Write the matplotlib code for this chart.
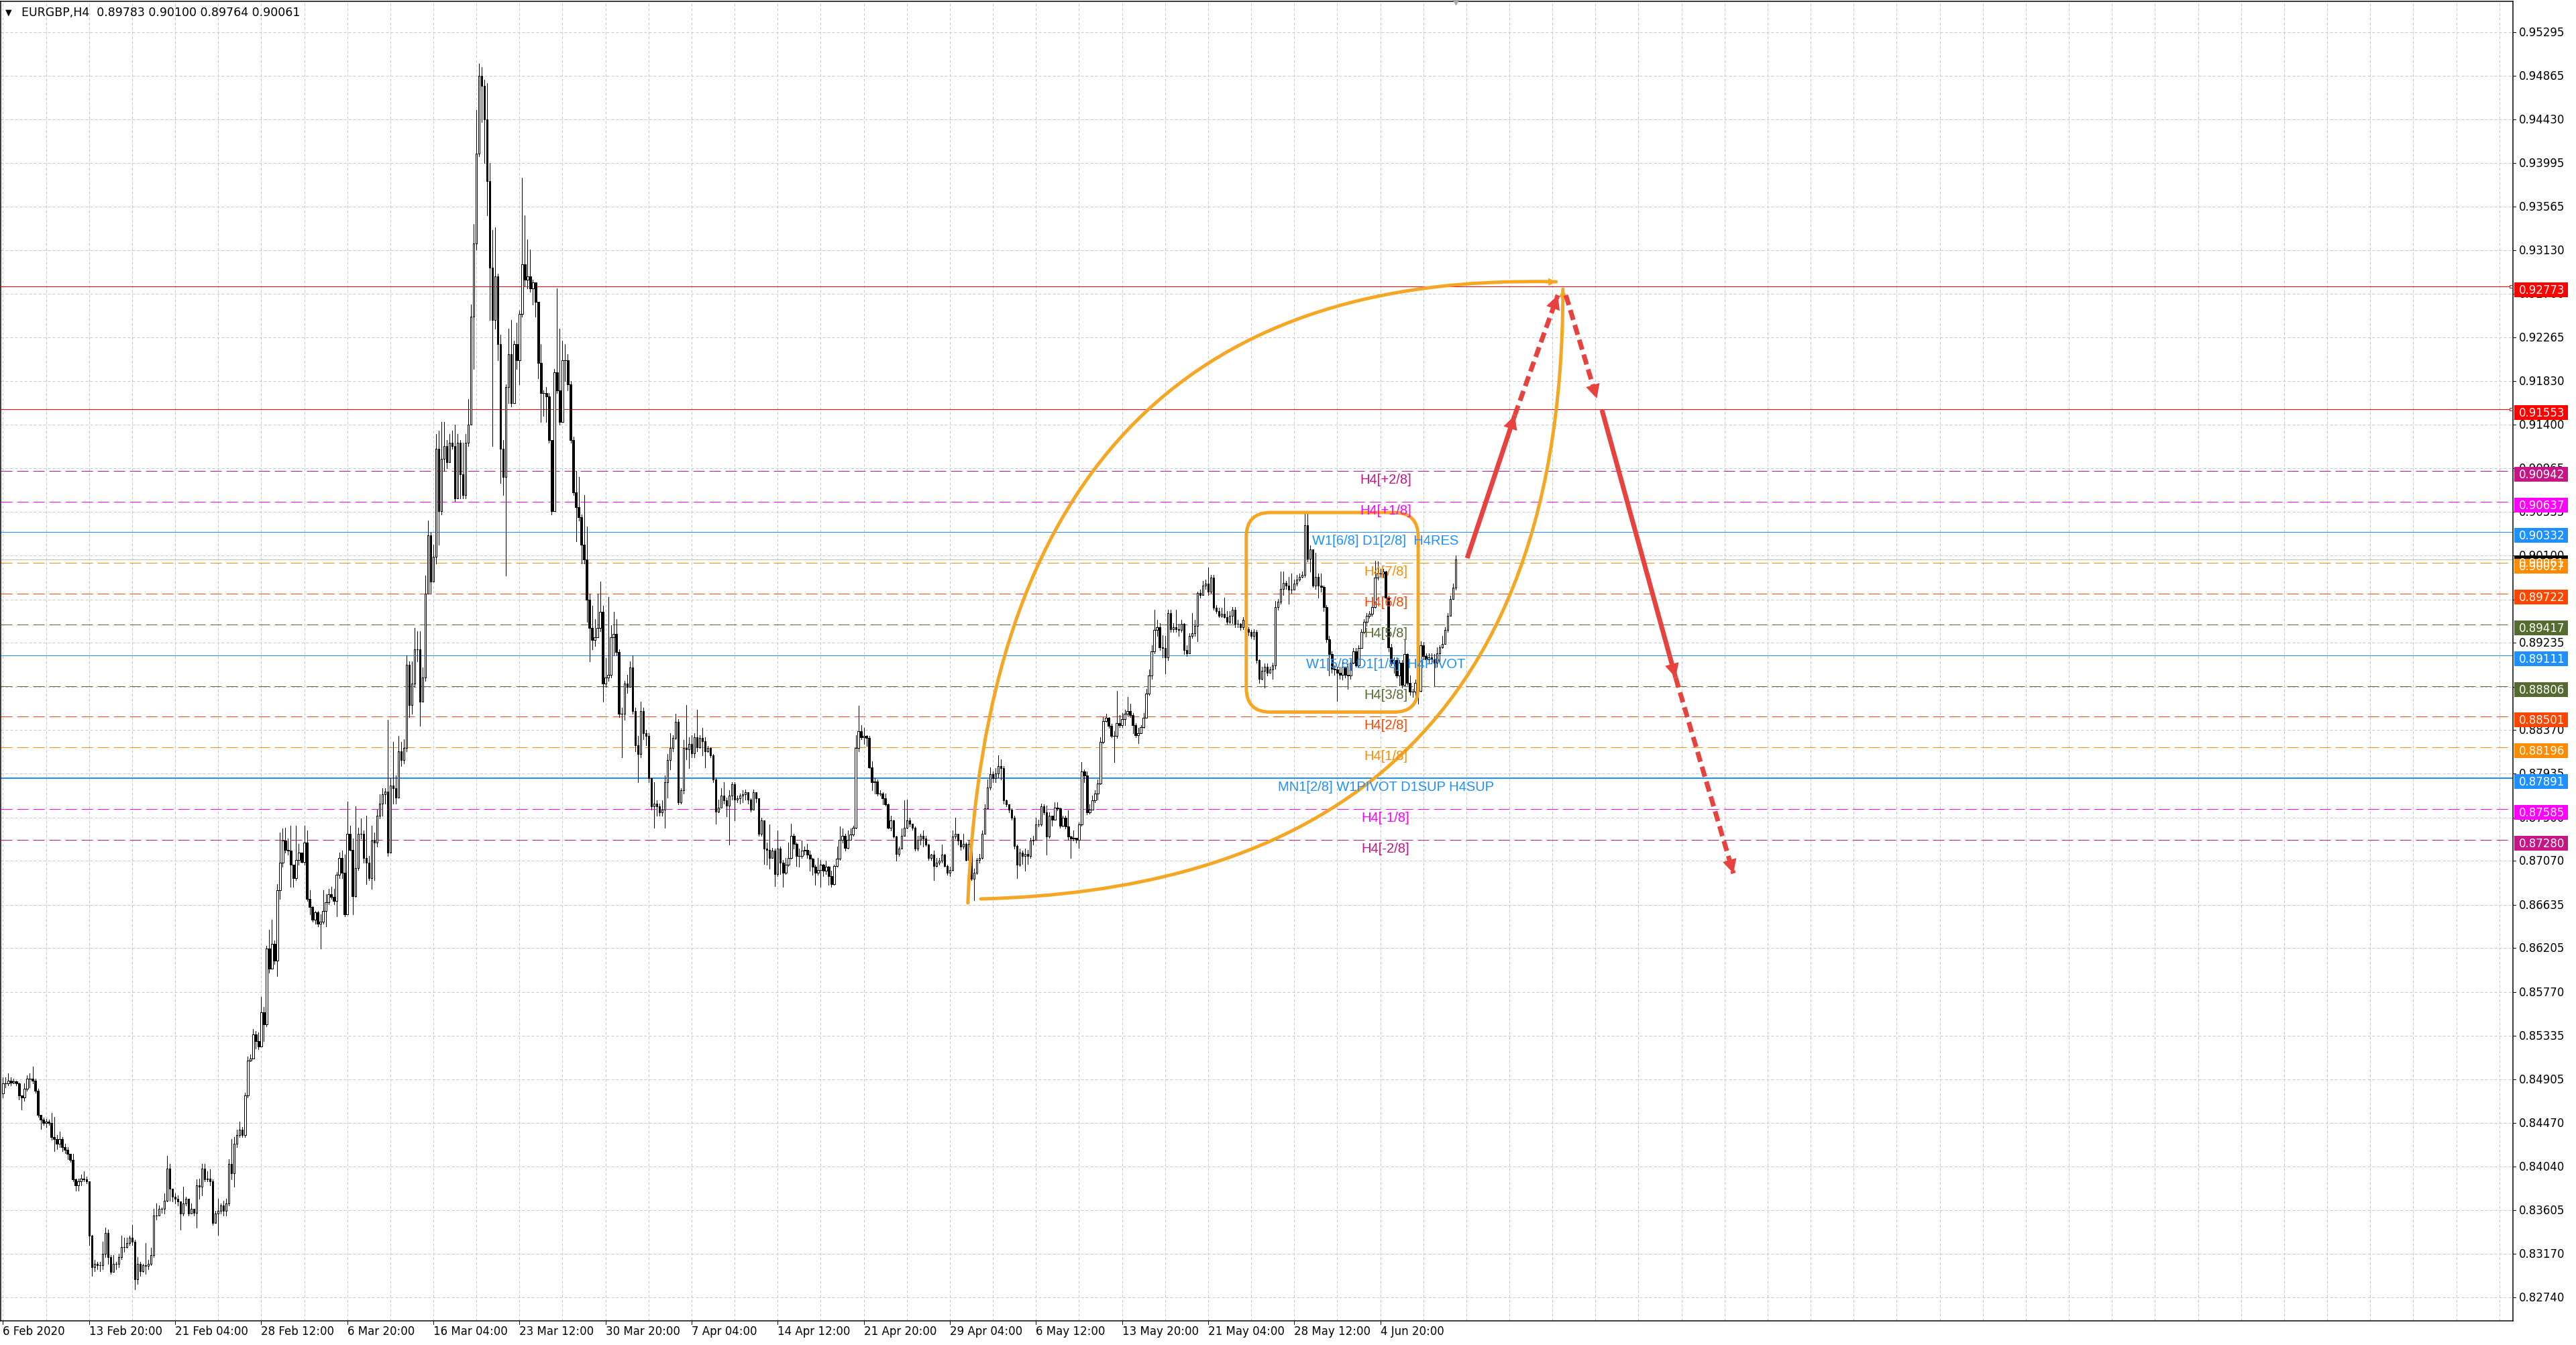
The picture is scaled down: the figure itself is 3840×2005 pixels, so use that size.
import numpy as np
import matplotlib
matplotlib.use("Agg")
import matplotlib.pyplot as plt
import matplotlib.transforms as mtransforms
from matplotlib.patches import FancyBboxPatch, Rectangle, PathPatch
from matplotlib.path import Path

W, H, DPI = 3840, 2006, 100
PX = 72.0 / DPI  # one pixel in points

# ---- price data, H4 bars, prices in pips (1e-4) ----
first_open = 8476
close_pips = [
    8486, 8486, 8489, 8487, 8488, 8486, 8474, 8472, 8481, 8491,
    8491, 8489, 8479, 8455, 8450, 8447, 8448, 8447, 8433, 8431,
    8426, 8431, 8423, 8420, 8416, 8410, 8391, 8385, 8389, 8392,
    8391, 8389, 8335, 8304, 8307, 8306, 8306, 8317, 8338, 8314,
    8299, 8307, 8307, 8314, 8324, 8324, 8328, 8333, 8329, 8292,
    8307, 8300, 8306, 8305, 8307, 8316, 8355, 8355, 8362, 8362,
    8370, 8402, 8382, 8374, 8372, 8369, 8357, 8367, 8372, 8357,
    8362, 8358, 8385, 8384, 8402, 8391, 8392, 8389, 8348, 8357,
    8360, 8365, 8360, 8367, 8406, 8397, 8426, 8435, 8440, 8435,
    8474, 8509, 8511, 8535, 8528, 8523, 8557, 8545, 8620, 8600,
    8625, 8608, 8678, 8705, 8727, 8718, 8717, 8703, 8690, 8708,
    8715, 8706, 8725, 8669, 8661, 8649, 8656, 8645, 8647, 8657,
    8666, 8674, 8671, 8667, 8693, 8710, 8695, 8654, 8734, 8718,
    8672, 8700, 8734, 8734, 8710, 8705, 8690, 8727, 8725, 8752,
    8764, 8773, 8776, 8715, 8782, 8779, 8770, 8816, 8807, 8819,
    8902, 8862, 8883, 8917, 8917, 8865, 8889, 8972, 9030, 8984,
    9009, 9116, 9054, 9106, 9119, 9103, 9122, 9119, 9067, 9122,
    9091, 9070, 9122, 9140, 9247, 9320, 9409, 9486, 9476, 9443,
    9382, 9296, 9244, 9287, 9220, 9116, 9088, 9177, 9210, 9161,
    9220, 9204, 9250, 9299, 9284, 9287, 9275, 9281, 9262, 9201,
    9171, 9171, 9168, 9125, 9054, 9192, 9174, 9143, 9204, 9204,
    9180, 9125, 9073, 9058, 9048, 9021, 9006, 8966, 8938, 8926,
    8929, 8938, 8954, 8883, 8889, 8892, 8929, 8932, 8914, 8853,
    8853, 8883, 8880, 8899, 8856, 8822, 8813, 8856, 8834, 8831,
    8789, 8761, 8764, 8761, 8755, 8758, 8785, 8807, 8819, 8829,
    8845, 8765, 8777, 8819, 8818, 8823, 8814, 8830, 8820, 8829,
    8826, 8816, 8819, 8812, 8788, 8756, 8760, 8772, 8767, 8762,
    8772, 8783, 8768, 8769, 8772, 8773, 8775, 8768, 8758, 8775,
    8769, 8734, 8747, 8719, 8718, 8710, 8717, 8694, 8719, 8705,
    8695, 8703, 8710, 8732, 8724, 8712, 8712, 8717, 8718, 8713,
    8709, 8701, 8695, 8698, 8703, 8697, 8701, 8692, 8684, 8702,
    8709, 8728, 8732, 8720, 8728, 8733, 8740, 8819, 8836, 8830,
    8831, 8829, 8800, 8785, 8786, 8774, 8774, 8769, 8763, 8740,
    8747, 8731, 8714, 8719, 8732, 8740, 8747, 8744, 8740, 8719,
    8728, 8732, 8729, 8723, 8710, 8713, 8702, 8705, 8707, 8713,
    8702, 8695, 8698, 8731, 8734, 8727, 8721, 8724, 8708, 8724,
    8689, 8695, 8708, 8710, 8734, 8759, 8780, 8793, 8789, 8794,
    8801, 8799, 8767, 8763, 8758, 8750, 8722, 8703, 8715, 8712,
    8714, 8712, 8727, 8728, 8743, 8743, 8761, 8755, 8731, 8752,
    8748, 8760, 8759, 8742, 8750, 8741, 8731, 8729, 8730, 8728,
    8743, 8796, 8792, 8755, 8758, 8767, 8774, 8784, 8825, 8846,
    8849, 8841, 8831, 8831, 8844, 8842, 8848, 8853, 8856, 8852,
    8842, 8832, 8834, 8840, 8849, 8873, 8891, 8915, 8936, 8939,
    8919, 8918, 8909, 8953, 8937, 8939, 8937, 8936, 8942, 8916,
    8913, 8930, 8933, 8940, 8973, 8971, 8980, 8982, 8974, 8988,
    8958, 8955, 8950, 8952, 8949, 8944, 8950, 8956, 8942, 8942,
    8939, 8946, 8937, 8934, 8930, 8934, 8906, 8888, 8896, 8900,
    8894, 8897, 8901, 8959, 8964, 8977, 8983, 8980, 8976, 8976,
    8982, 8986, 8989, 8991, 9040, 9007, 9016, 8980, 8989, 8980,
    8979, 8959, 8927, 8912, 8898, 8897, 8894, 8892, 8900, 8892,
    8891, 8904, 8915, 8901, 8918, 8934, 8944, 8950, 8952, 8959,
    8988, 8992, 8992, 8994, 8968, 8919, 8903, 8906, 8891, 8904,
    8882, 8912, 8884, 8875, 8875, 8884, 8876, 8921, 8910, 8907,
    8909, 8907, 8904, 8913, 8919, 8922, 8936, 8950, 8967, 8978.3,
    9006.1,
]
high_pips = [
    8492, 8492, 8496, 8492, 8491, 8489, 8487, 8474, 8486, 8494,
    8496, 8503, 8491, 8481, 8455, 8452, 8451, 8450, 8457, 8453,
    8435, 8438, 8433, 8426, 8423, 8414, 8416, 8392, 8392, 8396,
    8399, 8394, 8389, 8336, 8311, 8309, 8309, 8329, 8343, 8341,
    8316, 8316, 8309, 8317, 8335, 8333, 8333, 8335, 8346, 8331,
    8314, 8309, 8307, 8328, 8311, 8323, 8362, 8367, 8365, 8363,
    8377, 8414, 8406, 8382, 8377, 8375, 8369, 8384, 8374, 8370,
    8367, 8362, 8391, 8392, 8406, 8406, 8399, 8401, 8391, 8360,
    8372, 8367, 8370, 8372, 8411, 8431, 8433, 8440, 8448, 8443,
    8477, 8513, 8515, 8540, 8538, 8537, 8572, 8562, 8623, 8639,
    8649, 8628, 8684, 8735, 8739, 8740, 8729, 8742, 8701, 8742,
    8724, 8713, 8742, 8737, 8678, 8662, 8657, 8657, 8654, 8678,
    8674, 8679, 8681, 8679, 8696, 8715, 8717, 8713, 8766, 8742,
    8729, 8761, 8740, 8749, 8737, 8752, 8712, 8742, 8735, 8758,
    8773, 8779, 8779, 8847, 8789, 8825, 8792, 8831, 8825, 8828,
    8911, 8905, 8905, 8938, 8935, 8935, 8899, 8990, 9045, 9033,
    9021, 9131, 9134, 9143, 9143, 9125, 9131, 9134, 9140, 9131,
    9125, 9122, 9131, 9165, 9259, 9339, 9452, 9498, 9495, 9482,
    9479, 9400, 9333, 9336, 9290, 9229, 9125, 9180, 9235, 9244,
    9223, 9241, 9253, 9385, 9348, 9324, 9314, 9284, 9281, 9262,
    9220, 9174, 9177, 9171, 9125, 9195, 9275, 9235, 9223, 9220,
    9210, 9183, 9128, 9094, 9088, 9051, 9070, 9039, 8972, 8960,
    8947, 8972, 8984, 8960, 8908, 8969, 8941, 8954, 8947, 8917,
    8859, 8886, 8892, 8905, 8911, 8859, 8831, 8865, 8859, 8837,
    8834, 8789, 8785, 8767, 8764, 8767, 8792, 8813, 8834, 8832,
    8853, 8848, 8779, 8827, 8862, 8830, 8832, 8834, 8857, 8832,
    8839, 8830, 8821, 8820, 8813, 8790, 8768, 8779, 8785, 8770,
    8777, 8785, 8785, 8772, 8774, 8777, 8778, 8770, 8769, 8778,
    8773, 8768, 8750, 8747, 8725, 8743, 8720, 8719, 8737, 8721,
    8708, 8710, 8725, 8744, 8734, 8725, 8719, 8727, 8721, 8724,
    8717, 8710, 8703, 8710, 8708, 8704, 8707, 8702, 8697, 8703,
    8721, 8741, 8739, 8734, 8737, 8739, 8742, 8832, 8861, 8842,
    8839, 8832, 8831, 8806, 8789, 8788, 8777, 8775, 8774, 8764,
    8752, 8748, 8732, 8721, 8739, 8767, 8768, 8750, 8743, 8741,
    8732, 8734, 8737, 8732, 8724, 8714, 8717, 8710, 8710, 8723,
    8714, 8703, 8701, 8737, 8750, 8731, 8728, 8734, 8725, 8728,
    8730, 8699, 8710, 8714, 8737, 8763, 8788, 8800, 8796, 8799,
    8812, 8808, 8801, 8768, 8763, 8759, 8752, 8723, 8719, 8717,
    8719, 8718, 8730, 8732, 8750, 8748, 8764, 8763, 8762, 8755,
    8750, 8765, 8765, 8760, 8752, 8752, 8757, 8732, 8737, 8730,
    8745, 8805, 8798, 8796, 8763, 8772, 8777, 8788, 8830, 8850,
    8853, 8850, 8843, 8836, 8876, 8852, 8854, 8857, 8870, 8863,
    8854, 8844, 8839, 8842, 8854, 8878, 8897, 8921, 8956, 8946,
    8943, 8931, 8930, 8956, 8956, 8943, 8956, 8942, 8946, 8943,
    8921, 8933, 8953, 8946, 8974, 8976, 8985, 8986, 8998, 8991,
    8991, 8961, 8958, 8958, 8968, 8955, 8955, 8959, 8959, 8946,
    8943, 8949, 8948, 8939, 8936, 8937, 8936, 8907, 8900, 8903,
    8903, 8900, 8904, 8965, 8967, 8994, 8994, 8985, 8989, 8992,
    8986, 8991, 8992, 8994, 9052, 9052, 9020, 9016, 9013, 8992,
    8992, 8980, 8961, 8930, 8915, 8901, 8900, 8900, 8906, 8900,
    8903, 8906, 8918, 8918, 8921, 8937, 8947, 8953, 8955, 8962,
    9005, 9004, 8997, 8997, 8995, 8970, 8922, 8909, 8909, 8906,
    8906, 8927, 8913, 8891, 8878, 8887, 8887, 8925, 8924, 8913,
    8913, 8913, 8912, 8919, 8921, 8930, 8939, 8953, 8970, 8982,
    9010.0,
]
low_pips = [
    8472, 8482, 8484, 8484, 8486, 8484, 8470, 8460, 8469, 8479,
    8482, 8486, 8477, 8453, 8441, 8445, 8443, 8445, 8430, 8419,
    8421, 8423, 8419, 8417, 8411, 8408, 8389, 8380, 8380, 8385,
    8389, 8387, 8326, 8295, 8300, 8302, 8300, 8302, 8314, 8307,
    8297, 8304, 8302, 8304, 8312, 8319, 8323, 8326, 8326, 8282,
    8287, 8295, 8299, 8297, 8302, 8306, 8314, 8351, 8355, 8358,
    8357, 8369, 8370, 8369, 8367, 8365, 8341, 8355, 8365, 8355,
    8357, 8355, 8343, 8372, 8375, 8389, 8389, 8385, 8346, 8348,
    8336, 8357, 8355, 8355, 8365, 8391, 8384, 8423, 8433, 8433,
    8433, 8472, 8508, 8518, 8521, 8520, 8532, 8528, 8543, 8596,
    8605, 8605, 8593, 8669, 8701, 8715, 8713, 8681, 8681, 8688,
    8703, 8705, 8703, 8667, 8654, 8647, 8645, 8642, 8620, 8645,
    8642, 8664, 8669, 8664, 8652, 8690, 8690, 8652, 8656, 8717,
    8654, 8671, 8698, 8729, 8705, 8684, 8688, 8679, 8688, 8721,
    8749, 8752, 8764, 8712, 8721, 8764, 8764, 8770, 8801, 8804,
    8816, 8850, 8853, 8880, 8905, 8841, 8868, 8886, 8972, 8972,
    8999, 9002, 9021, 9051, 9094, 9097, 9116, 9116, 9064, 9088,
    9067, 9067, 9067, 9119, 9140, 9195, 9314, 9406, 9440, 9400,
    9348, 9244, 9119, 9235, 9204, 9082, 9070, 8990, 9161, 9158,
    9192, 9195, 9180, 9247, 9278, 9275, 9272, 9259, 9247, 9186,
    9143, 9149, 9143, 9122, 9051, 9054, 9171, 9140, 9143, 9183,
    9174, 9122, 9070, 9024, 9045, 9002, 9002, 8944, 8905, 8917,
    8920, 8932, 8935, 8865, 8880, 8886, 8889, 8911, 8911, 8850,
    8810, 8847, 8874, 8880, 8853, 8816, 8785, 8810, 8828, 8822,
    8785, 8758, 8740, 8752, 8752, 8752, 8740, 8770, 8798, 8816,
    8828, 8763, 8764, 8774, 8808, 8799, 8810, 8810, 8816, 8819,
    8812, 8800, 8815, 8810, 8785, 8744, 8755, 8760, 8764, 8751,
    8723, 8768, 8747, 8765, 8764, 8765, 8768, 8764, 8756, 8758,
    8765, 8732, 8732, 8704, 8703, 8699, 8710, 8682, 8692, 8694,
    8681, 8694, 8702, 8709, 8719, 8702, 8701, 8710, 8713, 8710,
    8697, 8693, 8683, 8693, 8681, 8692, 8694, 8683, 8681, 8683,
    8701, 8708, 8725, 8717, 8719, 8731, 8732, 8739, 8816, 8828,
    8823, 8821, 8799, 8777, 8774, 8772, 8772, 8763, 8762, 8739,
    8737, 8730, 8707, 8712, 8719, 8732, 8739, 8741, 8738, 8717,
    8717, 8723, 8721, 8722, 8708, 8708, 8688, 8701, 8703, 8705,
    8701, 8693, 8692, 8697, 8729, 8723, 8718, 8719, 8707, 8708,
    8688, 8668, 8694, 8705, 8709, 8734, 8759, 8778, 8785, 8785,
    8790, 8788, 8764, 8761, 8755, 8748, 8719, 8690, 8702, 8704,
    8697, 8704, 8710, 8723, 8728, 8741, 8742, 8753, 8713, 8730,
    8742, 8748, 8757, 8740, 8741, 8739, 8728, 8710, 8727, 8725,
    8720, 8742, 8785, 8753, 8754, 8758, 8765, 8768, 8783, 8824,
    8845, 8839, 8830, 8805, 8829, 8840, 8840, 8842, 8851, 8850,
    8834, 8830, 8824, 8836, 8839, 8857, 8872, 8888, 8913, 8930,
    8916, 8909, 8893, 8906, 8934, 8934, 8934, 8930, 8934, 8912,
    8910, 8918, 8928, 8930, 8925, 8968, 8973, 8977, 8971, 8973,
    8956, 8953, 8949, 8949, 8948, 8942, 8943, 8943, 8939, 8939,
    8936, 8937, 8934, 8931, 8928, 8927, 8904, 8884, 8887, 8879,
    8891, 8894, 8888, 8898, 8956, 8962, 8971, 8977, 8962, 8973,
    8977, 8980, 8985, 8988, 8989, 9004, 8994, 8979, 8977, 8968,
    8974, 8955, 8924, 8891, 8894, 8892, 8866, 8888, 8887, 8889,
    8878, 8888, 8903, 8900, 8900, 8918, 8933, 8940, 8948, 8950,
    8958, 8986, 8989, 8989, 8965, 8915, 8901, 8894, 8889, 8881,
    8879, 8881, 8882, 8872, 8870, 8870, 8863, 8875, 8907, 8903,
    8904, 8903, 8881, 8900, 8903, 8918, 8925, 8934, 8952, 8967,
    8976.4,
]

title_text = "EURGBP,H4  0.89783 0.90100 0.89764 0.90061"
bid_price = 0.90061

# time axis labels, one every 32 bars
date_labels = ["6 Feb 2020", "13 Feb 20:00", "21 Feb 04:00", "28 Feb 12:00",
               "6 Mar 20:00", "16 Mar 04:00", "23 Mar 12:00", "30 Mar 20:00",
               "7 Apr 04:00", "14 Apr 12:00", "21 Apr 20:00", "29 Apr 04:00",
               "6 May 12:00", "13 May 20:00", "21 May 04:00", "28 May 12:00",
               "4 Jun 20:00"]
label_step = 32

price_ticks = [0.95295, 0.94865, 0.94430, 0.93995, 0.93565, 0.93130, 0.92700,
               0.92265, 0.91830, 0.91400, 0.90965, 0.90535, 0.90100, 0.89665,
               0.89235, 0.88800, 0.88370, 0.87935, 0.87500, 0.87070, 0.86635,
               0.86205, 0.85770, 0.85335, 0.84905, 0.84470, 0.84040, 0.83605,
               0.83170, 0.82740]

# murrey / pivot levels
level_prices = [0.92773, 0.91553, 0.90942, 0.90637, 0.90332, 0.90027, 0.89722,
                0.89417, 0.89111, 0.88806, 0.88501, 0.88196, 0.87891, 0.87585,
                0.87280]
level_names = ["", "", "H4[+2/8]", "H4[+1/8]", "W1[6/8] D1[2/8]  H4RES",
               "H4[7/8]", "H4[6/8]", "H4[5/8]", "W1[5/8] D1[1/8]  H4PIVOT",
               "H4[3/8]", "H4[2/8]", "H4[1/8]", "MN1[2/8] W1PIVOT D1SUP H4SUP",
               "H4[-1/8]", "H4[-2/8]"]
level_colors = ["#FF0000", "#FF0000", "#C71585", "#FF00FF", "#1E90FF",
                "#FF8C00", "#FF4500", "#556B2F", "#1E90FF", "#556B2F",
                "#FF4500", "#FF8C00", "#1E90FF", "#FF00FF", "#C71585"]
level_dashed = [False, False, True, True, False, True, True, True, False,
                True, True, True, False, True, True]
level_width_px = [1, 1, 1, 1, 1, 1, 1, 1, 1, 1, 1, 1, 2, 1, 1]
level_label_bar = 514

# hand-drawn annotations (bar index, price)
box_bars = (462.2, 526.1)
box_prices = (0.88547, 0.90528)
upper_curve = [(358.7, 0.86653), (368.0, 0.92958), (577.4, 0.92818)]
lower_curve = [(363.5, 0.86693), (472.7, 0.86766), (579.9, 0.87965), (579.9, 0.92745)]
red_up = [(544.3, 0.90075), (562.0, 0.91493), (578.0, 0.92685)]
red_down = [(581.0, 0.92685), (592.5, 0.91660), (594.4, 0.91547), (621.8, 0.88890), (643.3, 0.86946)]

# ---- layout (pixel geometry of the terminal window) ----
bar_px, bar0_px = 4.01, 4.4
plot_l, plot_r, plot_t, plot_b = 1, 3746, 3, 1970
px_per_price = 15020.0
ref_price, ref_y = 0.95295, 49


def price_at(y):
    return ref_price - (y - ref_y) / px_per_price


fig = plt.figure(figsize=(W / DPI, H / DPI), dpi=DPI)
fig.patch.set_facecolor("white")
ax = fig.add_axes([plot_l / W, 1 - plot_b / H, (plot_r - plot_l) / W, (plot_b - plot_t) / H])
ax.set_xlim((plot_l - bar0_px) / bar_px, (plot_r - bar0_px) / bar_px)
ax.set_ylim(price_at(plot_b), price_at(plot_t))
ax.set_xticks([])
ax.set_yticks([])
for s in ax.spines.values():
    s.set_color("black")
    s.set_linewidth(PX * 1.5)

close = np.array(close_pips, dtype=float) / 10000
high = np.array(high_pips, dtype=float) / 10000
low = np.array(low_pips, dtype=float) / 10000
opn = np.concatenate([[first_open / 10000], close[:-1]])
high = np.maximum(high, np.maximum(opn, close))
low = np.minimum(low, np.minimum(opn, close))
idx = np.arange(len(close))

# grid
grid_kw = dict(color="#C8C8C8", lw=PX, ls=(0, (4, 3)), zorder=1)
for b in range(0, 940, 16):
    ax.axvline(b, **grid_kw)
for t in price_ticks:
    ax.axhline(t, **grid_kw)

# level lines + labels
for p, name, col, dashed, wpx in zip(level_prices, level_names, level_colors,
                                     level_dashed, level_width_px):
    ls = (0, (17, 7)) if dashed else "-"
    ax.axhline(p, color=col, lw=PX * wpx, ls=ls, zorder=2)
    if name:
        ax.annotate(name, (level_label_bar, p), xytext=(0, -3 * PX),
                    textcoords="offset points", ha="center", va="top",
                    color=col, fontsize=14.5, family="Liberation Sans", zorder=6)
ax.axhline(bid_price, color="#C0C0C0", lw=PX, zorder=2)
ax.plot([(plot_r - 3 - bar0_px) / bar_px] * 2, level_prices[:2], ls="none", marker="s",
        ms=3.5, mfc="white", mec="#FF0000", mew=PX, clip_on=False, zorder=7)

# candles, drawn crisp like the terminal does
ax.vlines(idx, low, high, color="black", lw=PX, zorder=3, antialiased=False)
up = close >= opn
ax.bar(idx[up], (close - opn)[up], bottom=opn[up], width=0.6, facecolor="white",
       edgecolor="black", lw=PX, zorder=4, antialiased=False)
ax.bar(idx[~up], (opn - close)[~up], bottom=close[~up], width=0.6, facecolor="black",
       edgecolor="black", lw=PX, zorder=4, antialiased=False)

# orange rounded box
orange = "#F5A623"
box = FancyBboxPatch((box_bars[0], box_prices[0]), box_bars[1] - box_bars[0],
                     box_prices[1] - box_prices[0],
                     boxstyle="round,pad=0,rounding_size=9",
                     mutation_aspect=bar_px / px_per_price,
                     fill=False, ec=orange, lw=PX * 5, zorder=5)
ax.add_patch(box)

# orange curves
up_path = Path(upper_curve, [Path.MOVETO, Path.CURVE3, Path.CURVE3])
low_path = Path(lower_curve, [Path.MOVETO, Path.CURVE4, Path.CURVE4, Path.CURVE4])
for pth in (up_path, low_path):
    ax.add_patch(PathPatch(pth, fill=False, ec=orange, lw=PX * 5, capstyle="round", zorder=5))
arrow_kw = dict(arrowstyle="-|>,head_length=0.6,head_width=0.3", color=orange,
                lw=0, mutation_scale=14, shrinkA=0, shrinkB=0)
ax.annotate("", xy=upper_curve[2], xytext=(upper_curve[2][0] - 6, upper_curve[2][1] - 0.00005),
            arrowprops=arrow_kw, zorder=6)
ax.annotate("", xy=lower_curve[3], xytext=(lower_curve[3][0], lower_curve[3][1] - 0.0015),
            arrowprops=arrow_kw, zorder=6)

# red forecast arrows
red = "#E8423F"


def red_segment(p0, p1, dashed):
    kw = dict(color=red, lw=PX * 7, solid_capstyle="butt", zorder=7)
    if dashed:
        ax.plot([p0[0], p1[0]], [p0[1], p1[1]], dashes=(2.2, 1.1), **kw)
    else:
        ax.plot([p0[0], p1[0]], [p0[1], p1[1]], **kw)
    dx, dy = p1[0] - p0[0], p1[1] - p0[1]
    ax.annotate("", xy=p1, xytext=(p1[0] - dx * 0.05, p1[1] - dy * 0.05),
                arrowprops=dict(arrowstyle="-|>,head_length=0.75,head_width=0.38",
                                color=red, lw=0, mutation_scale=20, shrinkA=0, shrinkB=0),
                zorder=8)


red_segment(red_up[0], red_up[1], False)
red_segment(red_up[1], red_up[2], True)
red_segment(red_down[0], red_down[1], True)
red_segment(red_down[2], red_down[3], False)
red_segment(red_down[3], red_down[4], True)

# right price scale
ytr = mtransforms.blended_transform_factory(fig.transFigure, ax.transData)
for t in price_ticks:
    ax.plot([plot_r / W, (plot_r + 4) / W], [t, t], color="black", lw=PX, transform=ytr,
            clip_on=False, zorder=3)
    ax.text(3755 / W, t, f"{t:.5f}", transform=ytr, ha="left", va="center",
            fontsize=12, family="DejaVu Sans", color="black", clip_on=False, zorder=3)

box_h = 22 / px_per_price
box_off = 5 / px_per_price
tags = [(p, c) for p, c in zip(level_prices, level_colors)]
tags.insert(5, (bid_price, "black"))
for p, c in tags:
    ax.add_patch(Rectangle((3748 / W, p - box_off - box_h / 2), 80 / W, box_h, transform=ytr,
                           facecolor=c, edgecolor="none", clip_on=False, zorder=10))
    ax.text(3755 / W, p - box_off, f"{p:.5f}", transform=ytr, ha="left", va="center",
            fontsize=12, family="DejaVu Sans", color="white", clip_on=False, zorder=11)

# time scale
xtr = mtransforms.blended_transform_factory(ax.transData, fig.transFigure)
for k, lab in enumerate(date_labels):
    b = k * label_step
    ax.plot([b, b], [1 - plot_b / H, 1 - (plot_b + 5) / H], color="black", lw=PX,
            transform=xtr, clip_on=False)
    ax.text(b, 1 - 1976 / H, lab, transform=xtr, ha="left", va="top", fontsize=12,
            family="DejaVu Sans", clip_on=False)

# chart shift marker and title
ax.plot([len(close) - 1], [price_at(plot_t)], marker="v", ms=7, color="#A8A8A8",
        clip_on=False, zorder=9)
fig.text(8 / W, 1 - 19 / H, "\u25BC", fontsize=9, va="center", ha="left", family="DejaVu Sans")
fig.text(32 / W, 1 - 19 / H, title_text, fontsize=12.5, va="center", ha="left",
         family="DejaVu Sans")

fig.savefig("out.png", dpi=DPI, facecolor="white")
